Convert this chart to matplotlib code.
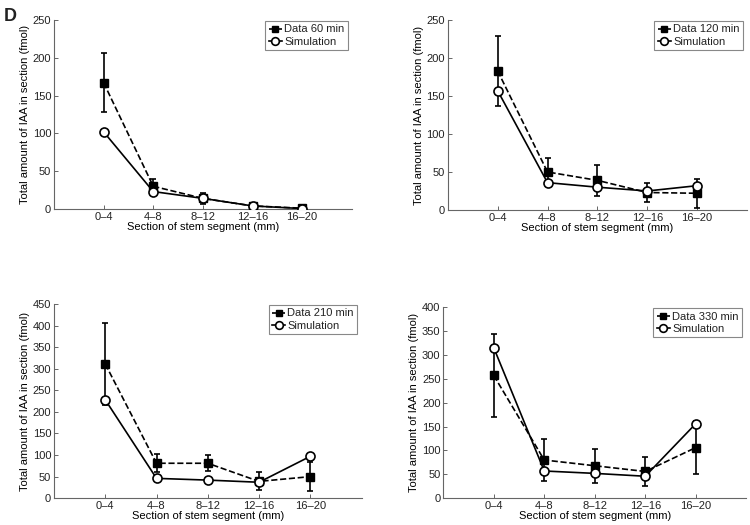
import matplotlib
matplotlib.use("Agg")
import matplotlib.pyplot as plt

plt.rcParams.update({
    "font.family": ["Liberation Sans", "DejaVu Sans"],
    "font.size": 8,
    "axes.linewidth": 0.8,
    "axes.edgecolor": "#666666",
    "text.color": "#222222",
    "xtick.labelcolor": "#222222",
    "ytick.labelcolor": "#222222",
})

# ── data ─────────────────────────────────────────────────────────────────
sections = ["0\u20134", "4\u20138", "8\u201312", "12\u201316", "16\u201320"]
times = [60, 120, 210, 330]

data_60 = [167, 30, 14, 4, 1]
err_60 = [39, 10, 7, 2, 1]
sim_60 = [102, 23, 14, 4, 0.5]

data_120 = [183, 50, 39, 23, 22]
err_120 = [46, 18, 20, 13, 19]
sim_120 = [157, 36, 30, 25, 32]

data_210 = [311, 81, 81, 39, 50]
err_210 = [96, 21, 19, 21, 33]
sim_210 = [228, 46, 42, 37, 97]

data_330 = [257, 80, 68, 56, 106]
err_330 = [87, 44, 36, 31, 56]
sim_330 = [315, 57, 52, 46, 156]

ymax = [250, 250, 450, 400]

panels = [(data_60, err_60, sim_60), (data_120, err_120, sim_120),
          (data_210, err_210, sim_210), (data_330, err_330, sim_330)]

# axes rectangles in figure fractions (from the 750x525 layout)
rects = [
    [0.072, 0.602, 0.397, 0.360],
    [0.597, 0.600, 0.399, 0.362],
    [0.072, 0.051, 0.410, 0.370],
    [0.591, 0.051, 0.404, 0.364],
]

fig = plt.figure(figsize=(7.5, 5.25), dpi=100)
x = list(range(1, len(sections) + 1))

for (d, e, s), t, ym, r in zip(panels, times, ymax, rects):
    ax = fig.add_axes(r)
    eb = ax.errorbar(x, d, yerr=e, color="black", linestyle="--",
                     linewidth=1.2, marker="s", markersize=5.5,
                     markerfacecolor="black", ecolor="black", elinewidth=1.2,
                     capsize=2.2, capthick=1.2, zorder=3)
    sim, = ax.plot(x, s, color="black", linestyle="-", linewidth=1.2,
                   marker="o", markersize=6.5, markerfacecolor="white",
                   markeredgewidth=1.2, zorder=4)
    ax.set_xlim(0, 6)
    ax.set_ylim(0, ym)
    ax.set_xticks(x)
    ax.set_xticklabels(sections)
    ax.set_yticks(range(0, ym + 1, 50))
    for sp in ("top", "right"):
        ax.spines[sp].set_visible(False)
    ax.tick_params(direction="in", length=3, width=0.7, color="#666666",
                   labelsize=8, pad=2)
    ax.set_xlabel("Section of stem segment (mm)", fontsize=8, labelpad=0)
    ax.set_ylabel("Total amount of IAA in section (fmol)", fontsize=8,
                  labelpad=2)
    leg = ax.legend([eb.lines[0], sim], [f"Data {t} min", "Simulation"],
                    loc="upper right", bbox_to_anchor=(0.99, 1.0),
                    fancybox=False, edgecolor="#888888", framealpha=1,
                    handlelength=1.2, handletextpad=0.2, borderpad=0.3,
                    labelspacing=0.2, fontsize=8, borderaxespad=0.1,
                    markerscale=0.85)
    leg.get_frame().set_linewidth(0.8)

fig.text(0.005, 0.985, "D", fontsize=13, fontweight="bold", va="top",
         ha="left")

fig.savefig("out.png", dpi=100, facecolor="white")
